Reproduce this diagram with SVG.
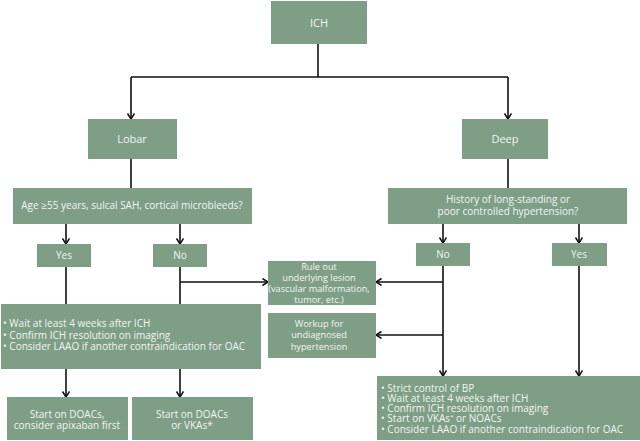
<svg xmlns="http://www.w3.org/2000/svg" width="640" height="441" viewBox="0 0 640 441">
<style>
.box{fill:#7e9e86;}
.t{font-family:"Open Sans","DejaVu Sans",sans-serif;font-size:10px;fill:#f2f5f2;}
.c{text-anchor:middle;}
.big{font-size:11px;}
.sm{font-size:9.2px;}
.ln{fill:none;stroke:#111;stroke-width:1.6;}
</style>
<defs>
<marker id="ah" markerUnits="userSpaceOnUse" markerWidth="10" markerHeight="10" refX="6" refY="4" orient="auto">
<path d="M0.5,0.5 L6,4 L0.5,7.5" fill="none" stroke="#111" stroke-width="1.5"/>
</marker>
</defs>
<rect width="640" height="441" fill="#fff"/>
<g id="connectors">
<path class="ln" d="M318,44 V77 M131,77 H508"/>
<path class="ln" d="M131,77 V119" marker-end="url(#ah)"/>
<path class="ln" d="M508,77 V119" marker-end="url(#ah)"/>
<path class="ln" d="M131,159 V188"/>
<path class="ln" d="M508,159 V188"/>
<path class="ln" d="M66,224 V244" marker-end="url(#ah)"/>
<path class="ln" d="M180,224 V244" marker-end="url(#ah)"/>
<path class="ln" d="M66,267 V304"/>
<path class="ln" d="M180,267 V304"/>
<path class="ln" d="M180,282 H268" marker-end="url(#ah)"/>
<path class="ln" d="M443,224 V243" marker-end="url(#ah)"/>
<path class="ln" d="M579,224 V243" marker-end="url(#ah)"/>
<path class="ln" d="M443,266 V376" marker-end="url(#ah)"/>
<path class="ln" d="M443,282 H376" marker-end="url(#ah)"/>
<path class="ln" d="M443,335 H376" marker-end="url(#ah)"/>
<path class="ln" d="M579,266 V376" marker-end="url(#ah)"/>
<path class="ln" d="M66,369 V397" marker-end="url(#ah)"/>
<path class="ln" d="M180,369 V397" marker-end="url(#ah)"/>
</g>
<g id="ich"><rect class="box" x="271" y="1" width="96" height="43"/><text class="t c big" x="319" y="27">ICH</text></g>
<g id="lobar"><rect class="box" x="88" y="119" width="89" height="40"/><text class="t c big" x="132" y="143">Lobar</text></g>
<g id="deep"><rect class="box" x="462" y="119" width="86" height="40"/><text class="t c big" x="505" y="143">Deep</text></g>
<g id="age"><rect class="box" x="13" y="188" width="239" height="36"/><text class="t c" x="132" y="209">Age ≥55 years, sulcal SAH, cortical microbleeds?</text></g>
<g id="history"><rect class="box" x="388" y="188" width="239" height="36"/><text class="t c" x="508" y="203">History of long-standing or</text><text class="t c" x="508" y="215">poor controlled hypertension?</text></g>
<g id="yes-left"><rect class="box" x="37" y="244" width="54" height="23"/><text class="t c" x="64" y="259">Yes</text></g>
<g id="no-left"><rect class="box" x="153" y="244" width="54" height="23"/><text class="t c" x="180" y="259">No</text></g>
<g id="no-right"><rect class="box" x="416" y="243" width="54" height="23"/><text class="t c" x="443" y="258">No</text></g>
<g id="yes-right"><rect class="box" x="552" y="243" width="55" height="23"/><text class="t c" x="579" y="258">Yes</text></g>
<g id="ruleout"><rect class="box" x="268" y="261" width="108" height="44"/>
<text class="t c sm" x="319" y="270">Rule out</text><text class="t c sm" x="319" y="281">underlying lesion</text><text class="t c sm" x="319" y="292">(vascular malformation,</text><text class="t c sm" x="319" y="303">tumor, etc.)</text></g>
<g id="workup"><rect class="box" x="268" y="313" width="108" height="45"/>
<text class="t c sm" x="319" y="327">Workup for</text><text class="t c sm" x="319" y="338">undiagnosed</text><text class="t c sm" x="319" y="349.5">hypertension</text></g>
<g id="wait"><rect class="box" x="1" y="304" width="260" height="65"/>
<text class="t" x="3" y="326.5">• Wait at least 4 weeks after ICH</text>
<text class="t" x="3" y="338.5">• Confirm ICH resolution on imaging</text>
<text class="t" x="3" y="350">• Consider LAAO if another contraindication for OAC</text></g>
<g id="doacs-apix"><rect class="box" x="7" y="397" width="121" height="43"/>
<text class="t c" x="67" y="417.5">Start on DOACs,</text><text class="t c" x="67" y="428.5">consider apixaban first</text></g>
<g id="doacs-vka"><rect class="box" x="132" y="397" width="121" height="43"/>
<text class="t c" x="192" y="417.5">Start on DOACs</text><text class="t c" x="192" y="428.5">or VKAs*</text></g>
<g id="strict"><rect class="box" x="377" y="376" width="263" height="64"/>
<text class="t" x="381" y="391.8">• Strict control of BP</text>
<text class="t" x="381" y="402">• Wait at least 4 weeks after ICH</text>
<text class="t" x="381" y="412.2">• Confirm ICH resolution on imaging</text>
<text class="t" x="381" y="422.4">• Start on VKAs<tspan font-size="6" dy="-3">*</tspan><tspan dy="3"> or NOACs</tspan></text>
<text class="t" x="381" y="432.6">• Consider LAAO if another contraindication for OAC</text></g>
</svg>
